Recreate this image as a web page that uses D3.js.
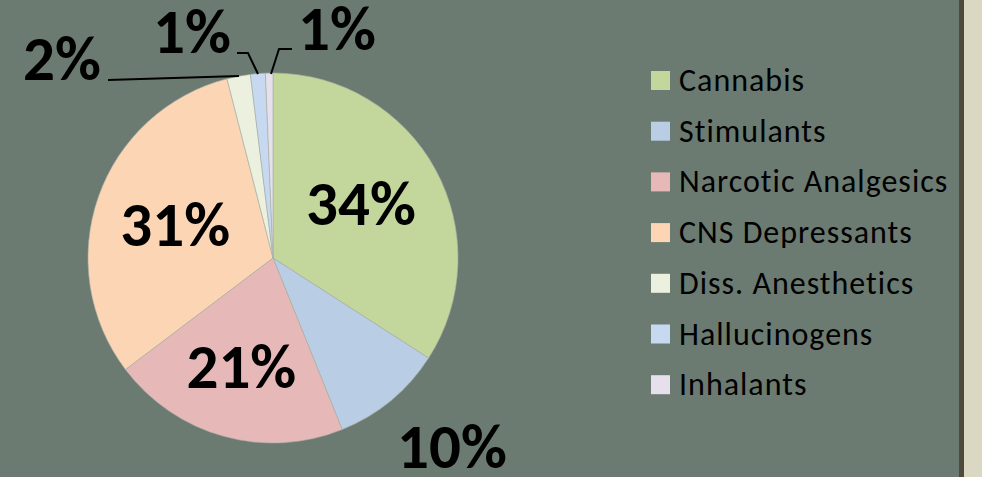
<!DOCTYPE html>
<html>
<head>
<meta charset="utf-8">
<script src="https://cdn.jsdelivr.net/npm/d3@7"></script>
<style>
  html, body { margin: 0; padding: 0; background: #6c7b72; }
  svg { display: block; font-family: Carlito, Calibri, Lato, sans-serif; font-variant-ligatures: none; }
</style>
</head>
<body>
<svg width="982" height="477"></svg>
<script>
// slice data, clockwise from 12 o'clock
const categories = ["Cannabis", "Stimulants", "Narcotic Analgesics", "CNS Depressants",
  "Diss. Anesthetics", "Hallucinogens", "Inhalants"];
const shares = [34.1, 9.8, 20.8, 31.3, 2.05, 1.3, 0.65];
const colors = ["#c3d69b", "#b9cde5", "#e6b9b8", "#fcd5b5", "#ebf1de", "#c6d9f1", "#e6e0ec"];

var svg = d3.select("svg");
var width = +svg.attr("width");
var height = +svg.attr("height");

// right hand border of the slide
svg.append("rect").attr("x", 964).attr("y", 0).attr("width", width - 964).attr("height", height).attr("fill", "#dad8c3");
svg.append("rect").attr("x", 959).attr("y", 0).attr("width", 5).attr("height", height).attr("fill", "#4f4a3c");

var cx = 273, cy = 258, radius = 185;
var color = d3.scaleOrdinal().domain(categories).range(colors);
var pct = d3.format(".0%");
var total = d3.sum(shares);

var pie = d3.pie().sort(null).value(function (d) { return d.value; });
var arcs = pie(categories.map(function (c, i) { return { name: c, value: shares[i] }; }));

var arc = d3.arc().innerRadius(0).outerRadius(radius);
var labelArc = d3.arc().innerRadius(0).outerRadius(radius * 1.12);

var g = svg.append("g").attr("transform", "translate(" + cx + "," + cy + ")");

g.selectAll("path")
  .data(arcs)
  .enter().append("path")
  .attr("d", arc)
  .attr("fill", function (d) { return color(d.data.name); })
  .attr("stroke", "#a9b0a6")
  .attr("stroke-width", 0.6);

// inside labels for the big slices (Cannabis, Narcotic, CNS)
var inside = [arcs[0], arcs[2], arcs[3]];
var nudge = [[-3, -4], [-4, 9], [0, 1]];
g.selectAll("text.inside")
  .data(inside)
  .enter().append("text")
  .attr("class", "inside")
  .attr("text-anchor", "middle")
  .attr("font-weight", "bold")
  .attr("font-size", 63)
  .attr("fill", "#000")
  .attr("x", function (d, i) { return labelArc.centroid(d)[0] + nudge[i][0]; })
  .attr("y", function (d, i) { return labelArc.centroid(d)[1] + 21 + nudge[i][1]; })
  .text(function (d) { return pct(d.value / total); });

// Stimulants label was dragged outside, small slices use leader lines
var outside = [
  { i: 1, x: 452, y: 468, line: null },
  { i: 4, x: 62, y: 80, line: [[108, 80], [239, 76]] },
  { i: 5, x: 192, y: 53, line: [[237, 53], [248, 53], [258, 74]] },
  { i: 6, x: 337, y: 50, line: [[292, 49], [279, 49], [271, 74]] }
];

svg.selectAll("path.leader")
  .data(outside.filter(function (d) { return d.line; }))
  .enter().append("path")
  .attr("class", "leader")
  .attr("d", function (d) { return d3.line()(d.line); })
  .attr("fill", "none")
  .attr("stroke", "#000")
  .attr("stroke-width", 2);

svg.selectAll("text.outside")
  .data(outside)
  .enter().append("text")
  .attr("class", "outside")
  .attr("text-anchor", "middle")
  .attr("font-weight", "bold")
  .attr("font-size", 63)
  .attr("fill", "#000")
  .attr("x", function (d) { return d.x; })
  .attr("y", function (d) { return d.y; })
  .text(function (d) { return pct(arcs[d.i].value / total); });

// legend
var legend = svg.append("g").attr("transform", "translate(651,71)");
var row = legend.selectAll("g")
  .data(categories)
  .enter().append("g")
  .attr("transform", function (d, i) { return "translate(0," + (i * 50.7) + ")"; });

row.append("rect")
  .attr("width", 19)
  .attr("height", 19)
  .attr("fill", function (d) { return color(d); });

row.append("text")
  .attr("x", 28)
  .attr("y", 20)
  .attr("font-size", 32)
  .attr("letter-spacing", 1)
  .attr("fill", "#000")
  .text(function (d) { return d; });
</script>
</body>
</html>
